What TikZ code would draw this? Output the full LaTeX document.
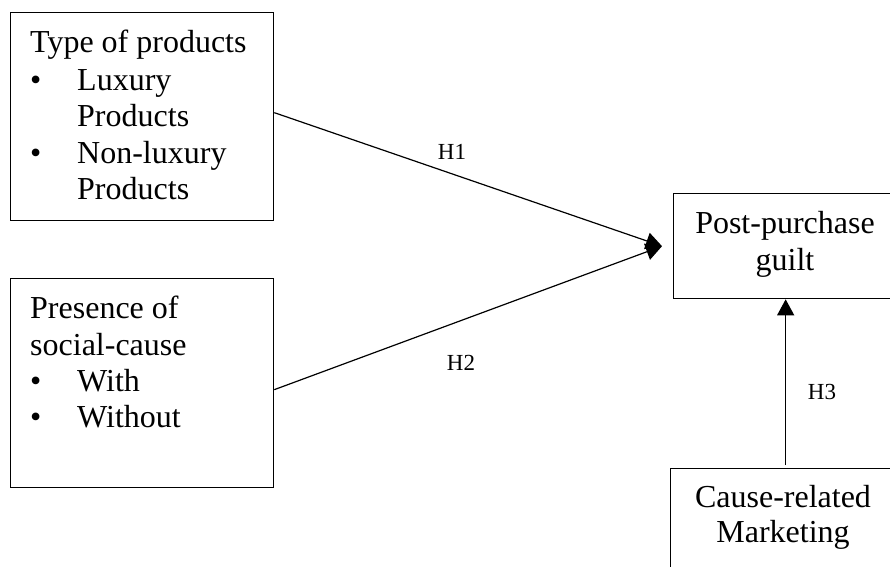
\documentclass[tikz,border=0pt]{standalone}
\usepackage{fontspec}
\setmainfont{Liberation Serif}
\usetikzlibrary{arrows.meta}
\begin{document}
\begin{tikzpicture}[x=1pt,y=-1pt,
  box/.style={draw=black, line width=1.3pt, rectangle, inner sep=0pt, anchor=north west},
  txt/.style={anchor=base west, inner sep=0pt, font=\fontsize{32}{37}\selectfont},
  ctxt/.style={anchor=base, inner sep=0pt, font=\fontsize{32}{37}\selectfont},
  hlab/.style={inner sep=0pt, font=\fontsize{23}{26}\selectfont},
  conn/.style={line width=1.2pt, -{Triangle[length=16pt,width=17pt]}}]
\useasboundingbox (0,0) rectangle (890,566);
\clip (0,0) rectangle (890,566);
\fill[white] (0,0) rectangle (890,566);
% boxes
\node[box, minimum width=263pt, minimum height=208pt] (b1) at (10,12) {};
\node[box, minimum width=263pt, minimum height=209pt] (b2) at (10,278) {};
\node[box, minimum width=224pt, minimum height=105pt] (b3) at (673,193) {};
\node[box, minimum width=226pt, minimum height=140pt] (b4) at (670,468) {};
% box 1 text
\node[txt] (t11) at (30,52) {Type of products};
\node[txt] (t12) at (30,90) {\textbullet};
\node[txt] (t13) at (77,90) {Luxury};
\node[txt] (t14) at (77,126) {Products};
\node[txt] (t15) at (30,163) {\textbullet};
\node[txt] (t16) at (77,163) {Non-luxury};
\node[txt] (t17) at (77,199) {Products};
% box 2 text
\node[txt] (t21) at (30,318) {Presence of};
\node[txt] (t22) at (30,355) {social-cause};
\node[txt] (t23) at (30,391) {\textbullet};
\node[txt] (t24) at (77,391) {With};
\node[txt] (t25) at (30,427) {\textbullet};
\node[txt] (t26) at (77,427) {Without};
% box 3 text
\node[ctxt] (t31) at (785,233) {Post-purchase};
\node[ctxt] (t32) at (785,270) {guilt};
% box 4 text
\node[ctxt] (t41) at (783,507) {Cause-related};
\node[ctxt] (t42) at (783,542) {Marketing};
% connectors
\coordinate (tip) at ([xshift=-11pt]b3.west);
\draw[conn] ([yshift=4pt]b1.east) -- (tip);
\draw[conn] ([yshift=-6.5pt]b2.east) -- (tip);
\draw[conn] ([xshift=2pt,yshift=3pt]b4.north) -- ([xshift=2pt]b4.north |- b3.south);
% labels
\node[hlab] (h1) at (452,152) {H1};
\node[hlab] (h2) at (461,363) {H2};
\node[hlab] (h3) at (822,392) {H3};
\end{tikzpicture}
\end{document}
